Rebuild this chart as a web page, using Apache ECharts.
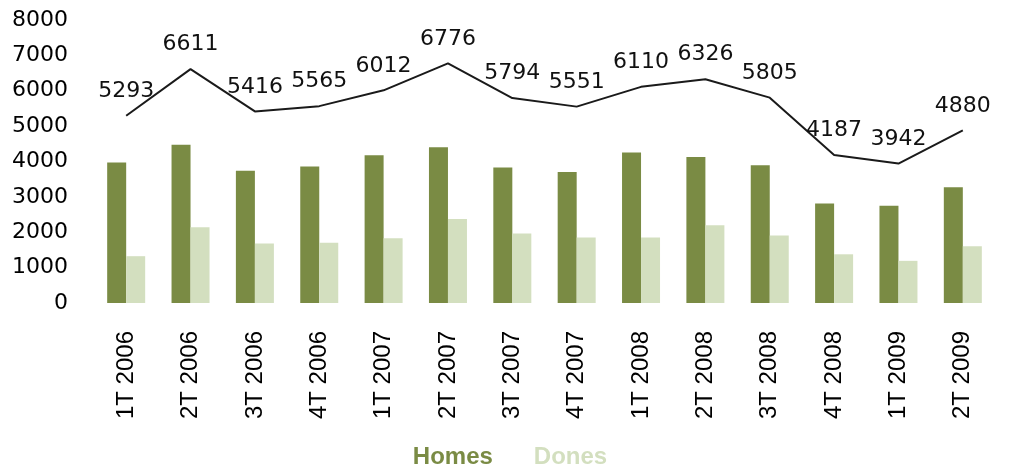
<!DOCTYPE html>
<html>
<head>
<meta charset="utf-8">
<script src="https://cdn.jsdelivr.net/npm/echarts@6/dist/echarts.min.js"></script>
<style>
html,body{margin:0;padding:0;background:#fff;}
#c{width:1015px;height:464px;}
</style>
</head>
<body>
<div id="c"></div>
<script>
const categories = ['1T 2006','2T 2006','3T 2006','4T 2006','1T 2007','2T 2007','3T 2007','4T 2007','1T 2008','2T 2008','3T 2008','4T 2008','1T 2009','2T 2009'];
const homes = [3970, 4470, 3735, 3860, 4180, 4400, 3830, 3700, 4255, 4130, 3895, 2810, 2750, 3275];
const dones = [1323, 2141, 1681, 1705, 1832, 2376, 1964, 1851, 1855, 2196, 1910, 1377, 1192, 1605];
const totals = [5293, 6611, 5416, 5565, 6012, 6776, 5794, 5551, 6110, 6326, 5805, 4187, 3942, 4880];

const HOMES_COLOR = '#7a8b44';
const DONES_COLOR = '#d3dfbf';

const chart = echarts.init(document.getElementById('c'), null, {renderer:'canvas'});
chart.setOption({
  animation: false,
  backgroundColor: '#ffffff',
  grid: {left: 94, right: 20, top: 20, bottom: 161, containLabel: false},
  legend: {
    top: 440,
    left: 'center',
    itemWidth: 0,
    itemHeight: 0,
    itemGap: 36,
    icon: 'none',
    data: [
      {name: 'Homes', textStyle: {color: HOMES_COLOR}},
      {name: 'Dones', textStyle: {color: DONES_COLOR}}
    ],
    textStyle: {fontFamily: 'Liberation Sans', fontWeight: 'bold', fontSize: 24}
  },
  xAxis: {
    type: 'category',
    data: categories,
    axisLine: {show: false},
    axisTick: {show: false},
    axisLabel: {
      rotate: 90,
      interval: 0,
      margin: 28,
      color: '#000',
      fontFamily: 'Liberation Sans',
      fontSize: 24
    }
  },
  yAxis: {
    type: 'value',
    min: 0, max: 8000, interval: 1000,
    axisLine: {show: false},
    axisTick: {show: false},
    splitLine: {show: false},
    axisLabel: {
      margin: 26,
      color: '#000',
      fontFamily: 'DejaVu Sans',
      fontSize: 22,
      formatter: v => String(v)
    }
  },
  series: [
    {
      name: 'Homes', type: 'bar', data: homes,
      barWidth: 19, barGap: '0%',
      itemStyle: {color: HOMES_COLOR}
    },
    {
      name: 'Dones', type: 'bar', data: dones,
      barWidth: 19, barGap: '0%',
      itemStyle: {color: DONES_COLOR}
    },
    {
      name: 'Total', type: 'line', data: totals,
      showSymbol: true, symbol: 'circle', symbolSize: 1,
      itemStyle: {color: 'rgba(0,0,0,0)'},
      lineStyle: {color: '#1a1a1a', width: 2},
      labelLayout: {hideOverlap: false},
      label: {
        show: true, position: 'top', distance: 13, offset: [10, 0],
        color: '#111', fontFamily: 'DejaVu Sans', fontSize: 22
      }
    }
  ]
});
</script>
</body>
</html>
